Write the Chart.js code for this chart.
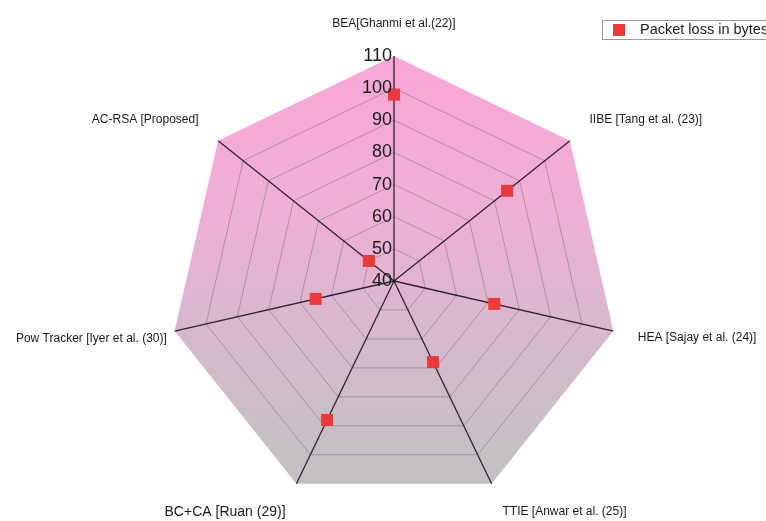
<!DOCTYPE html>
<html>
<head>
<meta charset="utf-8">
<script src="https://cdn.jsdelivr.net/npm/chart.js@4/dist/chart.umd.min.js"></script>
<style>
  html, body { margin: 0; padding: 0; background: #ffffff; overflow: hidden; }
  #wrap { position: relative; width: 766px; height: 521px; }
</style>
</head>
<body>
<div id="wrap"><canvas id="chart" width="766" height="521"></canvas></div>
<script>
// Methods compared on the radar axes
const categories = [
  'BEA[Ghanmi et al.(22)]',
  'IIBE [Tang et al. (23)]',
  'HEA [Sajay et al. (24)]',
  'TTIE [Anwar et al. (25)]',
  'BC+CA [Ruan (29)]',
  'Pow Tracker [Iyer et al. (30)]',
  'AC-RSA [Proposed]'
];
// Packet loss in bytes for each method
const packetLoss = [98, 85, 72, 68, 88, 65, 50];
const seriesLabel = 'Packet loss in bytes';
// Radial scale ticks
const tickValues = [40, 50, 60, 70, 80, 90, 100, 110];

const FONT = '"Liberation Sans", Arial, Helvetica, sans-serif';
const MARKER = 'rgb(236,58,60)';

// Fills the outer heptagon with a pink-to-grey vertical gradient
const gradientBackground = {
  id: 'gradientBackground',
  beforeDraw(chart) {
    const s = chart.scales.r;
    const top = s.yCenter - s.drawingArea;
    const bottom = s.yCenter + s.drawingArea;
    const g = chart.ctx.createLinearGradient(0, top, 0, bottom);
    g.addColorStop(0, 'rgb(250,166,216)');
    g.addColorStop(0.35, 'rgb(238,176,213)');
    g.addColorStop(0.6, 'rgb(216,184,205)');
    g.addColorStop(0.85, 'rgb(199,192,197)');
    g.addColorStop(1, 'rgb(195,193,195)');
    s.options.backgroundColor = g;
  }
};

// Axis titles, tick numbers and the legend box
const annotations = {
  id: 'annotations',
  afterDraw(chart) {
    const ctx = chart.ctx;
    const s = chart.scales.r;
    ctx.save();

    // tick numbers, right-aligned against the top axis
    ctx.fillStyle = '#1a1a1a';
    ctx.font = '18px ' + FONT;
    ctx.textAlign = 'right';
    ctx.textBaseline = 'middle';
    tickValues.forEach(v => {
      const d = s.getDistanceFromCenterForValue(v);
      ctx.fillText(String(v), s.xCenter - 2, s.yCenter - d);
    });

    // axis titles
    const gap = [32, 25, 25, 25, 25, 8, 25];
    const nudgeY = [0, -5, 1, 5, 6, 6, -5];
    categories.forEach((c, i) => {
      const p = s.getPointPosition(i, s.drawingArea + gap[i]);
      const size = i === 4 ? 14 : 12;
      ctx.font = size + 'px ' + FONT;
      ctx.fillStyle = '#1a1a1a';
      ctx.textBaseline = 'middle';
      if (Math.abs(p.x - s.xCenter) < 1) ctx.textAlign = 'center';
      else ctx.textAlign = p.x > s.xCenter ? 'left' : 'right';
      ctx.fillText(c, p.x, p.y + nudgeY[i]);
    });

    // legend box
    const ds = chart.data.datasets[0];
    ctx.strokeStyle = '#9a9a9a';
    ctx.lineWidth = 1;
    ctx.strokeRect(602.5, 20.5, 190, 19);
    ctx.fillStyle = ds.pointBackgroundColor;
    ctx.fillRect(613, 24, 12, 12);
    ctx.fillStyle = '#1a1a1a';
    ctx.font = '14.5px ' + FONT;
    ctx.textAlign = 'left';
    ctx.textBaseline = 'middle';
    ctx.fillText(ds.label, 640, 30);
    ctx.restore();
  }
};

new Chart(document.getElementById('chart'), {
  type: 'radar',
  data: {
    labels: categories,
    datasets: [{
      label: seriesLabel,
      data: packetLoss,
      showLine: false,
      fill: false,
      borderWidth: 0,
      pointStyle: 'rect',
      pointRadius: 8.5,
      pointHoverRadius: 8.5,
      pointBorderWidth: 0,
      pointBackgroundColor: MARKER,
      pointBorderColor: MARKER
    }]
  },
  options: {
    responsive: false,
    animation: false,
    devicePixelRatio: 1,
    layout: { padding: { left: 169, right: 147, top: 56, bottom: 15 } },
    plugins: {
      legend: { display: false },
      tooltip: { enabled: false }
    },
    scales: {
      r: {
        min: 40,
        max: 110,
        ticks: { stepSize: 10, display: false },
        pointLabels: { display: false },
        angleLines: { color: 'rgba(40,25,40,0.95)', lineWidth: 1.3 },
        grid: {
          color: ctx => (ctx.tick && ctx.tick.value >= 110) ? 'rgba(0,0,0,0)' : 'rgba(120,110,120,0.5)',
          lineWidth: 1
        }
      }
    }
  },
  plugins: [gradientBackground, annotations]
});
</script>
</body>
</html>
